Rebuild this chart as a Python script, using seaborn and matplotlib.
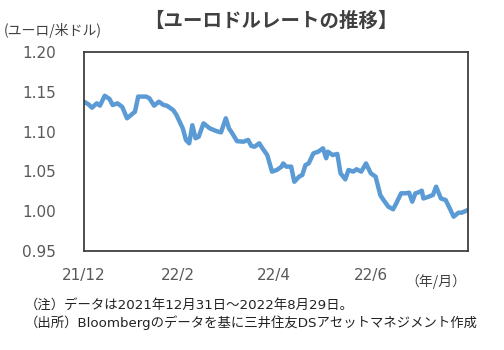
import matplotlib
matplotlib.use("Agg")
import matplotlib.pyplot as plt
import seaborn as sns
import pandas as pd

dates = [
    "2021-12-31", "2022-01-03", "2022-01-05", "2022-01-08", "2022-01-10", "2022-01-13",
    "2022-01-16", "2022-01-18", "2022-01-21", "2022-01-24", "2022-01-27", "2022-02-01",
    "2022-02-03", "2022-02-08", "2022-02-10", "2022-02-13", "2022-02-16", "2022-02-19",
    "2022-02-21", "2022-02-25", "2022-02-27", "2022-03-01", "2022-03-03", "2022-03-05",
    "2022-03-07", "2022-03-09", "2022-03-11", "2022-03-13", "2022-03-16", "2022-03-20",
    "2022-03-24", "2022-03-27", "2022-03-30", "2022-04-01", "2022-04-03", "2022-04-06",
    "2022-04-10", "2022-04-13", "2022-04-15", "2022-04-17", "2022-04-20", "2022-04-22",
    "2022-04-25", "2022-04-28", "2022-05-01", "2022-05-04", "2022-05-05", "2022-05-07",
    "2022-05-10", "2022-05-12", "2022-05-15", "2022-05-17", "2022-05-19", "2022-05-21",
    "2022-05-24", "2022-05-27", "2022-05-30", "2022-06-01", "2022-06-02", "2022-06-05",
    "2022-06-08", "2022-06-10", "2022-06-13", "2022-06-15", "2022-06-18", "2022-06-20",
    "2022-06-23", "2022-06-26", "2022-06-29", "2022-07-02", "2022-07-05", "2022-07-07",
    "2022-07-10", "2022-07-13", "2022-07-15", "2022-07-18", "2022-07-21", "2022-07-23",
    "2022-07-25", "2022-07-27", "2022-07-29", "2022-07-31", "2022-08-01", "2022-08-04",
    "2022-08-07", "2022-08-09", "2022-08-12", "2022-08-15", "2022-08-18", "2022-08-20",
    "2022-08-23", "2022-08-25", "2022-08-29",
]
eurusd = [
    1.1376, 1.1340, 1.1300, 1.1355, 1.1326, 1.1450,
    1.1410, 1.1334, 1.1355, 1.1310, 1.1167, 1.1250,
    1.1440, 1.1440, 1.1420, 1.1326, 1.1376, 1.1334,
    1.1326, 1.1270, 1.1210, 1.1125, 1.1040, 1.0895,
    1.0853, 1.1080, 1.0916, 1.0936, 1.1104, 1.1040,
    1.1007, 1.0990, 1.1167, 1.1040, 1.0980, 1.0880,
    1.0873, 1.0895, 1.0820, 1.0810, 1.0853, 1.0790,
    1.0706, 1.0497, 1.0518, 1.0560, 1.0600, 1.0560,
    1.0560, 1.0370, 1.0434, 1.0455, 1.0580, 1.0600,
    1.0727, 1.0748, 1.0790, 1.0665, 1.0748, 1.0706,
    1.0719, 1.0476, 1.0400, 1.0518, 1.0497, 1.0527,
    1.0497, 1.0600, 1.0476, 1.0434, 1.0200, 1.0140,
    1.0057, 1.0024, 1.0100, 1.0225, 1.0225, 1.0233,
    1.0120, 1.0225, 1.0237, 1.0258, 1.0160, 1.0180,
    1.0204, 1.0308, 1.0160, 1.0140, 1.0016, 0.9931,
    0.9981, 0.9981, 1.0016,
]
tick_dates = ["2021-12-31", "2022-02-28", "2022-04-29", "2022-06-29"]
tick_labels = ["21/12", "22/2", "22/4", "22/6"]
y_ticks = [0.95, 1.00, 1.05, 1.10, 1.15, 1.20]

title = "【ユーロドルレートの推移】"
y_unit = "(ユーロ/米ドル)"
x_unit = "（年/月）"
note1 = "（注）データは2021年12月31日～2022年8月29日。"
note2 = "（出所）Bloombergのデータを基に三井住友DSアセットマネジメント作成"

df = pd.DataFrame({"date": pd.to_datetime(dates), "rate": eurusd})

sns.set_theme(style="white")
plt.rcParams["font.family"] = ["Noto Sans CJK JP", "DejaVu Sans"]
mixed = ["DejaVu Sans", "Noto Sans CJK JP"]

fig = plt.figure(figsize=(5.04, 3.5), dpi=100)
ax = fig.add_axes([84 / 504, 1 - 251 / 350, 384 / 504, 199 / 350])

sns.lineplot(data=df, x="date", y="rate", ax=ax, color="#5B9BD5",
             linewidth=3.2, solid_joinstyle="round", solid_capstyle="round")

ax.set_xlim(df["date"].iloc[0], df["date"].iloc[-1])
ax.set_ylim(0.95, 1.20)
ax.set_yticks(y_ticks)
ax.set_yticklabels([f"{v:.2f}" for v in y_ticks], family="DejaVu Sans")
ax.set_xticks(pd.to_datetime(tick_dates))
ax.set_xticklabels(tick_labels, family="DejaVu Sans")
ax.set_xlabel("")
ax.set_ylabel("")

for s in ax.spines.values():
    s.set_visible(True)
    s.set_color("#404040")
    s.set_linewidth(1.3)

ax.tick_params(axis="x", direction="in", length=4, width=1.0, color="#404040",
               pad=12, labelsize=11, labelcolor="#595959")
ax.tick_params(axis="y", length=0, pad=20, labelsize=11, labelcolor="#595959")

fig.text(271 / 504, 1 - 21 / 350, title, ha="center", va="center",
         fontsize=14, fontweight="bold", color="#404040")
fig.text(4 / 504, 1 - 31 / 350, y_unit, ha="left", va="center",
         fontsize=10, color="#404040")
fig.text(466 / 504, 1 - 282 / 350, x_unit, ha="right", va="center",
         fontsize=10, color="#404040")
fig.text(25 / 504, 1 - 305 / 350, note1, ha="left", va="center",
         fontsize=9.6, color="#222222", family=mixed)
fig.text(25 / 504, 1 - 323 / 350, note2, ha="left", va="center",
         fontsize=9.6, color="#222222", family=mixed)

fig.savefig("out.png", dpi=100)
